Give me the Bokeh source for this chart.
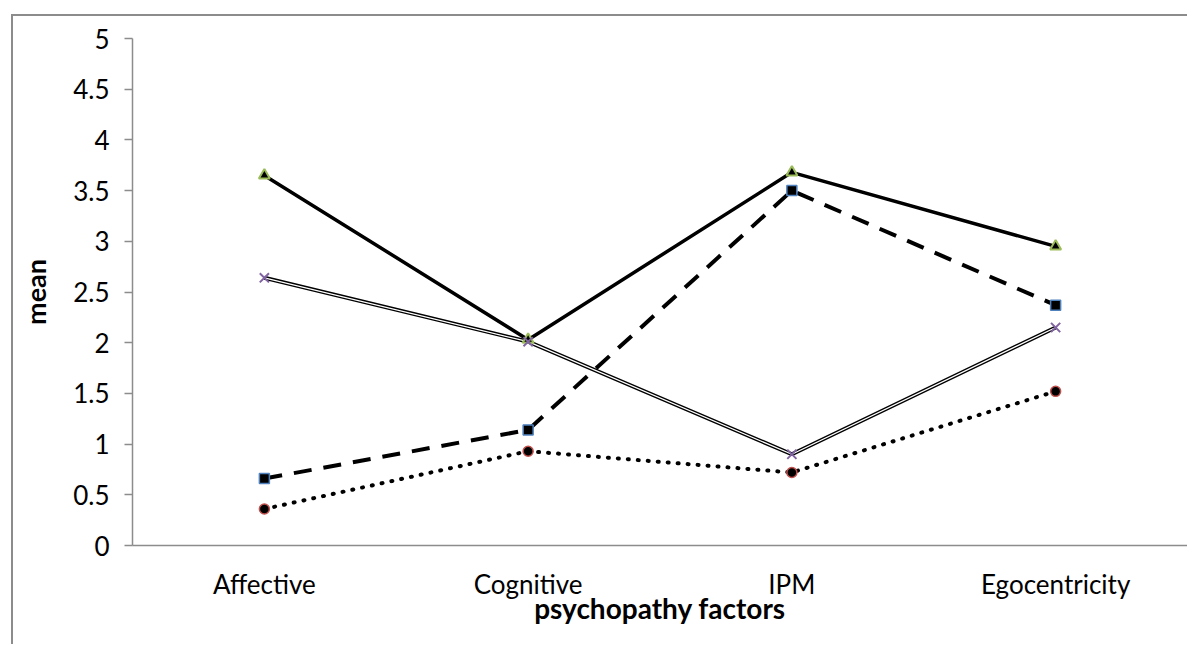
from bokeh.plotting import figure
from bokeh.embed import file_html
from bokeh.resources import INLINE
from bokeh.models import FixedTicker

categories = ["Affective", "Cognitive", "IPM", "Egocentricity"]
series_circle = [0.36, 0.93, 0.72, 1.52]
series_square = [0.66, 1.14, 3.50, 2.37]
series_triangle = [3.65, 2.03, 3.68, 2.95]
series_x = [2.64, 2.01, 0.90, 2.15]
y_ticks = [0, 0.5, 1, 1.5, 2, 2.5, 3, 3.5, 4, 4.5, 5]

FONT = "Lato"
GRAY = "#8c8c8c"

p = figure(x_range=categories, y_range=(0, 5), width=1192, height=630,
           output_backend="svg", toolbar_location=None,
           min_border_left=119, min_border_right=18, min_border_top=22, min_border_bottom=101)
p.margin = (14, 0, 0, 11)
p.styles = {"border-left": "2px solid #8c8c8c", "border-top": "2px solid #8c8c8c"}
p.x_range.range_padding = 0
p.xgrid.grid_line_color = None
p.ygrid.grid_line_color = None
p.outline_line_color = None
p.background_fill_color = "white"
p.border_fill_color = "white"

p.yaxis.ticker = FixedTicker(ticks=y_ticks)
p.yaxis.major_label_overrides = {0: "0", 0.5: "0.5", 1: "1", 1.5: "1.5", 2: "2", 2.5: "2.5",
                                 3: "3", 3.5: "3.5", 4: "4", 4.5: "4.5", 5: "5"}
p.yaxis.minor_tick_line_color = None
p.yaxis.major_tick_out = 8
p.yaxis.major_tick_in = 0
p.yaxis.axis_line_color = GRAY
p.yaxis.major_tick_line_color = GRAY
p.yaxis.axis_line_width = 1.5
p.yaxis.major_tick_line_width = 1.5
p.yaxis.major_label_standoff = 15
p.yaxis.axis_label = "mean"
p.yaxis.axis_label_text_font_style = "bold"
p.yaxis.axis_label_text_font_size = "27px"
p.yaxis.axis_label_text_font = FONT
p.yaxis.axis_label_standoff = 18

p.xaxis.axis_line_color = GRAY
p.xaxis.axis_line_width = 1.5
p.xaxis.major_tick_line_color = None
p.xaxis.minor_tick_line_color = None
p.xaxis.major_label_standoff = 16
p.xaxis.axis_label = "psychopathy factors"
p.xaxis.axis_label_text_font_style = "bold"
p.xaxis.axis_label_text_font_size = "28px"
p.xaxis.axis_label_text_font = FONT
p.xaxis.axis_label_standoff = -12

for ax in (p.xaxis, p.yaxis):
    ax.major_label_text_font = FONT
    ax.major_label_text_font_size = "26px"
    ax.major_label_text_color = "black"
    ax.axis_label_text_color = "black"

# circle series (dotted)
p.line(categories, series_circle, line_color="black", line_width=4, line_dash="1 9", line_cap="round")
# square series (dashed)
p.line(categories, series_square, line_color="black", line_width=4, line_dash="18 12")
# triangle series (solid)
p.line(categories, series_triangle, line_color="black", line_width=3.5)
# x series (double line)
p.line(categories, series_x, line_color="black", line_width=4)
p.line(categories, series_x, line_color="white", line_width=1.3)

p.scatter(categories, series_circle, marker="circle", size=10, fill_color="black",
          line_color="#c0504d", line_width=1.5)
p.scatter(categories, series_square, marker="square", size=10, fill_color="black",
          line_color="#4f81bd", line_width=1.5)
p.scatter(categories, series_triangle, marker="triangle", size=11, fill_color="black",
          line_color="#9bbb59", line_width=2)
p.scatter(categories, series_x, marker="x", size=13, line_color="#8064a2", line_width=2)

open("out.html", "w").write(file_html(p, INLINE))
